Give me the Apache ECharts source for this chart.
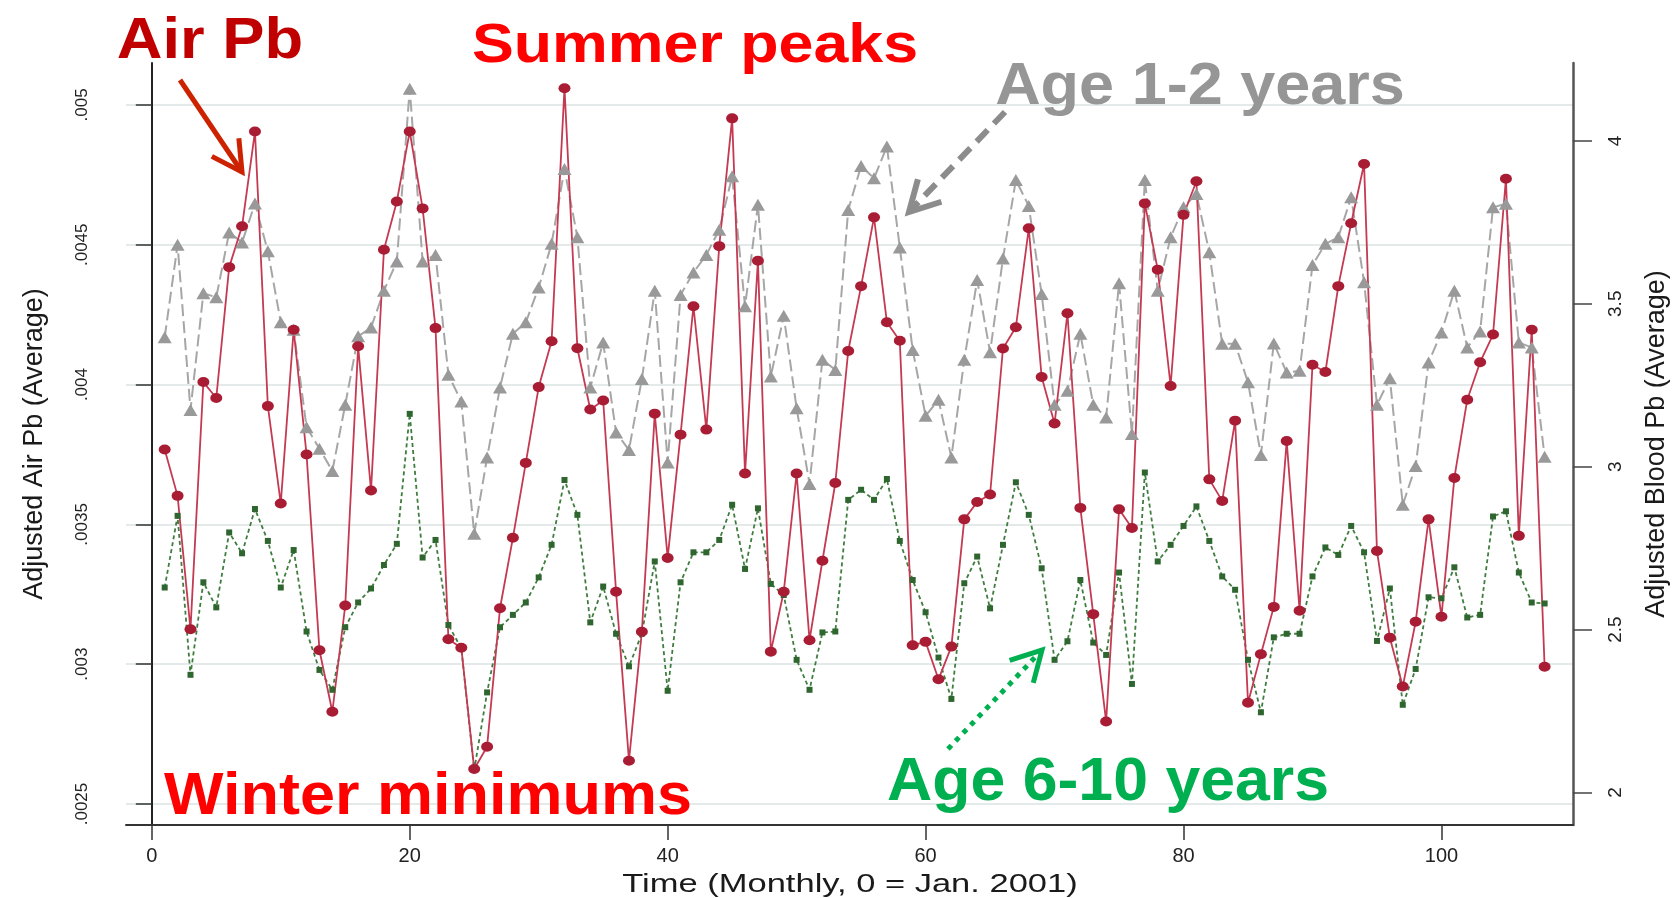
<!DOCTYPE html>
<html>
<head>
<meta charset="utf-8">
<title>Air Pb and blood Pb by month</title>
<script src="https://cdn.jsdelivr.net/npm/echarts@6.0.0/dist/echarts.min.js"></script>
<style>
html, body { margin: 0; padding: 0; background: #fff; }
#chart { width: 1677px; height: 898px; }
</style>
</head>
<body>
<div id="chart"></div>
<script>
// monthly averages, month 1..108 (0 = Jan. 2001)
var airPb = [
    .003768, .003602, .003125, .004009, .003952, .00442, .004566, .004905, .003923, .003575,
    .004196, .00375, .00305, .00283, .00321, .004137, .003621, .004482, .004655, .004905,
    .00463, .004202, .003089, .003059, .002625, .002705, .0032, .003452, .00372, .003991,
    .004155, .00506, .00413, .003911, .003943, .003259, .002655, .003116, .003896, .00338,
    .003821, .00428, .003839, .004495, .004952, .003682, .004443, .003045, .003259, .003682,
    .003086, .00337, .003648, .00412, .004352, .004598, .004223, .004157, .003068, .00308,
    .002946, .003063, .003518, .00358, .003607, .004129, .004205, .004559, .004027, .003861,
    .004255, .003559, .003179, .002795, .003554, .003487, .004648, .004411, .003995, .004607,
    .004727, .003661, .003584, .003871, .002862, .003036, .003205, .003798, .003191, .004071,
    .004045, .004352, .004577, .004789, .003405, .003095, .00292, .003152, .003518, .00317,
    .003666, .003946, .00408, .004179, .004736, .003459, .004196, .002991
];
var bloodAge12 = [
    3.397, 3.681, 3.174, 3.532, 3.52, 3.719, 3.688, 3.808, 3.661, 3.443,
    3.42, 3.121, 3.055, 2.987, 3.19, 3.4, 3.427, 3.54, 3.63, 4.16,
    3.63, 3.65, 3.282, 3.2, 2.794, 3.028, 3.243, 3.408, 3.443, 3.55,
    3.684, 3.914, 3.704, 3.243, 3.381, 3.105, 3.051, 3.269, 3.54, 3.013,
    3.527, 3.596, 3.65, 3.727, 3.891, 3.492, 3.804, 3.277, 3.463, 3.179,
    2.947, 3.328, 3.297, 3.788, 3.923, 3.885, 3.983, 3.673, 3.358, 3.156,
    3.205, 3.028, 3.328, 3.573, 3.351, 3.639, 3.88, 3.8, 3.53, 3.19,
    3.233, 3.408, 3.19, 3.151, 3.563, 3.1, 3.88, 3.54, 3.704, 3.796,
    3.837, 3.658, 3.377, 3.377, 3.259, 3.036, 3.378, 3.289, 3.294, 3.619,
    3.684, 3.704, 3.827, 3.566, 3.19, 3.271, 2.883, 3.002, 3.32, 3.412,
    3.54, 3.366, 3.415, 3.796, 3.807, 3.381, 3.366, 3.03
];
var bloodAge610 = [
    2.629, 2.849, 2.361, 2.645, 2.568, 2.798, 2.734, 2.87, 2.772, 2.629,
    2.744, 2.494, 2.376, 2.315, 2.507, 2.583, 2.626, 2.698, 2.763, 3.162,
    2.721, 2.775, 2.514, 2.442, 2.069, 2.307, 2.507, 2.545, 2.583, 2.66,
    2.76, 2.959, 2.852, 2.522, 2.632, 2.487, 2.387, 2.487, 2.709, 2.312,
    2.645, 2.737, 2.737, 2.775, 2.883, 2.686, 2.872, 2.64, 2.606, 2.407,
    2.315, 2.491, 2.494, 2.898, 2.929, 2.898, 2.962, 2.772, 2.652, 2.553,
    2.414, 2.287, 2.642, 2.724, 2.565, 2.76, 2.952, 2.852, 2.688, 2.407,
    2.464, 2.652, 2.46, 2.422, 2.675, 2.333, 2.982, 2.709, 2.76, 2.818,
    2.878, 2.772, 2.663, 2.622, 2.407, 2.246, 2.476, 2.487, 2.487, 2.663,
    2.752, 2.729, 2.818, 2.737, 2.465, 2.626, 2.269, 2.379, 2.599, 2.596,
    2.691, 2.537, 2.545, 2.847, 2.863, 2.675, 2.583, 2.58
];
var xTicks = [0, 20, 40, 60, 80, 100];
var airTicks = [0.0025, 0.003, 0.0035, 0.004, 0.0045, 0.005];
var bloodTicks = [2, 2.5, 3, 3.5, 4];

var months = [];
for (var i = 1; i <= airPb.length; i++) months.push(i);

function pairs(vals) {
    return vals.map(function (v, i) { return [months[i], v]; });
}

var axisFont = "'Liberation Sans', Arial, sans-serif";

// arrow = shaft + open head
function arrow(x1, y1, x2, y2, color, width, dash) {
    var ang = Math.atan2(y2 - y1, x2 - x1);
    var len = 34, spread = 0.5;
    var b1 = [x2 - len * Math.cos(ang - spread), y2 - len * Math.sin(ang - spread)];
    var b2 = [x2 - len * Math.cos(ang + spread), y2 - len * Math.sin(ang + spread)];
    return [{
        type: 'polyline',
        z: 100,
        shape: { points: [[x1, y1], [x2, y2]] },
        style: { stroke: color, lineWidth: width, lineDash: dash || null, fill: null }
    }, {
        type: 'polyline',
        z: 100,
        shape: { points: [b1, [x2, y2], b2] },
        style: { stroke: color, lineWidth: width, lineJoin: 'miter', fill: null }
    }];
}

function label(txt, cx, cy, size, color, sx, weight) {
    return {
        type: 'text',
        z: 100,
        x: cx,
        y: cy,
        scaleX: sx || 1,
        style: {
            text: txt,
            font: (weight || 'bold') + ' ' + size + "px 'Liberation Sans', Arial, sans-serif",
            fill: color,
            textAlign: 'center',
            textVerticalAlign: 'middle'
        }
    };
}

var chart = echarts.init(document.getElementById('chart'));

var graphics = [
    label('Air Pb', 210, 42, 57, '#c00000', 1.11),
    label('Summer peaks', 695, 47, 56, '#ff0000', 1.12),
    label('Age 1-2 years', 1200, 87, 60, '#969696', 1.05),
    label('Winter minimums', 428, 797, 60, '#ff0000', 1.05),
    label('Age 6-10 years', 1108, 783, 62, '#00b050', 1.01),
    // x axis title, drawn wide like the source
    label('Time (Monthly, 0 = Jan. 2001)', 850, 885, 25, '#1a1a1a', 1.38, 'normal')
].concat(
    arrow(180, 80, 242, 172, '#cc2200', 5),
    arrow(1005, 112, 909, 212, '#8c8c8c', 6, [16, 9]),
    arrow(948, 749, 1042, 650, '#00b050', 5, [5, 6])
);

var option = {
    animation: false,
    backgroundColor: '#ffffff',
    grid: {
        left: 126,
        right: 104,
        top: 63,
        bottom: 73,
        outerBoundsMode: 'none'
    },
    xAxis: {
        type: 'value',
        min: -2,
        max: 110.2,
        axisLine: { show: true, onZero: false, lineStyle: { color: '#333', width: 2 } },
        axisTick: { show: true, length: 15, customValues: xTicks, lineStyle: { color: '#333', width: 1.5 } },
        axisLabel: { customValues: xTicks, margin: 21, fontSize: 20, fontFamily: axisFont, color: '#222' },
        splitLine: { show: false }
    },
    yAxis: [{
        type: 'value',
        position: 'left',
        min: 0.002425,
        max: 0.00515,
        name: 'Adjusted Air Pb (Average)',
        nameLocation: 'middle',
        nameRotate: 90,
        nameGap: 78,
        nameTextStyle: { fontFamily: axisFont, fontSize: 27, color: '#1a1a1a' },
        axisLine: { show: true, lineStyle: { color: '#222', width: 2 } },
        axisTick: { show: true, length: 16, customValues: airTicks, lineStyle: { color: '#333', width: 1.5 } },
        axisLabel: {
            customValues: airTicks,
            rotate: 90,
            margin: 35,
            fontSize: 17,
            fontFamily: axisFont,
            color: '#222',
            formatter: function (v) { return String(v).replace(/^0\./, '.'); }
        },
        splitLine: { show: true, lineStyle: { color: '#e4eaea', width: 2 } }
    }, {
        type: 'value',
        position: 'right',
        min: 1.9,
        max: 4.239,
        name: 'Adjusted Blood Pb (Average)',
        nameLocation: 'middle',
        nameRotate: 90,
        nameGap: 70,
        nameTextStyle: { fontFamily: axisFont, fontSize: 27, color: '#1a1a1a' },
        axisLine: { show: true, lineStyle: { color: '#555', width: 2.5 } },
        axisTick: { show: true, length: 19, customValues: bloodTicks, lineStyle: { color: '#444', width: 1.5 } },
        axisLabel: {
            customValues: bloodTicks,
            rotate: 90,
            margin: 33,
            fontSize: 19,
            fontFamily: axisFont,
            color: '#222'
        },
        splitLine: { show: false }
    }],
    series: [{
        name: 'Age 1-2 years',
        type: 'line',
        yAxisIndex: 1,
        data: pairs(bloodAge12),
        symbol: 'triangle',
        symbolSize: [14, 12],
        itemStyle: { color: '#999999' },
        lineStyle: { color: '#a6a6a6', width: 2, type: [12, 5] }
    }, {
        name: 'Age 6-10 years',
        type: 'line',
        yAxisIndex: 1,
        data: pairs(bloodAge610),
        symbol: 'rect',
        symbolSize: 6,
        itemStyle: { color: '#2f6630' },
        lineStyle: { color: '#3f7d3f', width: 1.8, type: [4, 3] }
    }, {
        name: 'Air Pb',
        type: 'line',
        yAxisIndex: 0,
        data: pairs(airPb),
        symbol: 'circle',
        symbolSize: [12, 10],
        itemStyle: { color: '#a81c34' },
        lineStyle: { color: '#c43a52', width: 1.8 }
    }],
    graphic: graphics
};

chart.setOption(option);
</script>
</body>
</html>
